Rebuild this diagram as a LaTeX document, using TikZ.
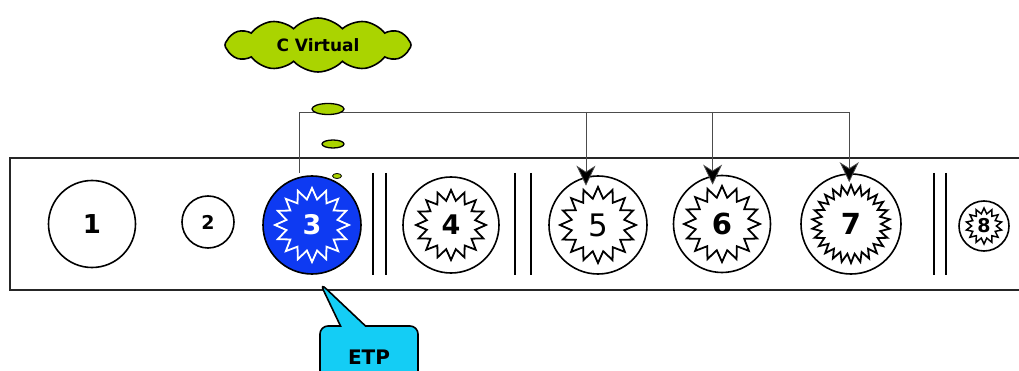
\documentclass[tikz,border=0pt]{standalone}
\usepackage{fontspec}
\setmainfont{DejaVu Sans}
\usetikzlibrary{arrows.meta,shapes.geometric,shapes.symbols,shapes.callouts}
\definecolor{leaf}{RGB}{170,212,0}
\definecolor{deepblue}{RGB}{14,58,242}
\definecolor{sky}{RGB}{20,205,245}

\begin{document}
\begin{tikzpicture}[
      x=1pt, y=-1pt,
      ring/.style={draw, line width=1.6pt, circle, inner sep=0pt},
      burst/.style={draw, line width=1.8pt, star, star points=16, star point ratio=1.42, inner sep=0pt},
      digits/.style={font=\bfseries\fontsize{#1}{#1}\selectfont},
      wall/.style={line width=1.8pt},
      link/.style={line width=0.8pt, draw=black!70},
      drop/.style={line width=0.8pt, draw=black!70, -{Stealth[length=20pt,width=19pt,inset=6pt,fill=black]}, shorten >=-9pt},
      bubble/.style={draw, line width=1.3pt, ellipse, fill=leaf, inner sep=0pt}
    ]
    \useasboundingbox (0,0) rectangle (1019,371);
    % Draw the frame and the walls.
    \draw[line width=2pt, draw=black!85] (10,158) rectangle (1040,290);
    \draw[wall] (373,173) -- (373,275);
    \draw[wall] (386,173) -- (386,275);
    \draw[wall] (515,173) -- (515,275);
    \draw[wall] (531,173) -- (531,275);
    \draw[wall] (934,173) -- (934,275);
    \draw[wall] (946,173) -- (946,275);
    % Draw the slots.
    \node[ring, minimum size=87pt, digits=26] (c1) at (92,224) {1};
    \node[ring, minimum size=52pt, digits=19] (c2) at (208,222) {2};
    \node[ring, fill=deepblue, minimum size=98pt] (c3) at (312,225) {};
    \node[ring, minimum size=96pt] (c4) at (451,225) {};
    \node[ring, minimum size=98pt] (c5) at (598,225) {};
    \node[ring, minimum size=97pt] (c6) at (722,224) {};
    \node[ring, minimum size=100pt] (c7) at (851,224) {};
    \node[ring, minimum size=50pt] (c8) at (984,226) {};
    % Draw the bursts.
    \node[burst, draw=white, text=white, minimum size=74pt, digits=27] (s3) at (c3) {3};
    \node[burst, minimum size=70pt, digits=27] (s4) at (c4) {4};
    \node[burst, minimum size=76pt, font=\fontsize{31}{31}\selectfont] (s5) at (c5) {5};
    \node[burst, minimum size=76pt, digits=29] (s6) at (c6) {6};
    \node[burst, star points=26, star point ratio=1.3, minimum size=78pt, digits=29] (s7) at (c7) {7};
    \node[burst, line width=1.5pt, star points=14, star point ratio=1.45, minimum size=36pt, digits=19] (s8) at (c8) {8};
    % Draw the links.
    \coordinate (bar) at (0,112);
    \draw[link, shorten <=4pt] (c3.105) -- (c3.105 |- bar) -- (c7.92 |- bar);
    \draw[drop] (c5.104 |- bar) -- (c5.104);
    \draw[drop] (c6.101 |- bar) -- (c6.101);
    \draw[drop] (c7.92 |- bar) -- (c7.92);
    % Draw the thought cloud.
    \node[bubble, minimum width=32pt, minimum height=11pt] (b1) at (328,109) {};
    \node[bubble, minimum width=22pt, minimum height=8pt] (b2) at (333,144) {};
    \node[bubble, line width=0.8pt, minimum width=9pt, minimum height=5pt] (b3) at (337,176) {};
    \node[cloud, cloud puffs=12, cloud puff arc=95, aspect=3.5, draw, line width=1.6pt, fill=leaf,
          minimum width=186pt, minimum height=54pt, digits=17] (virt) at (318,45) {C Virtual};
    % Draw the callout.
    \coordinate (tip) at (320,283);
    \node[rectangle callout, callout absolute pointer={(tip)}, callout pointer width=25pt,
          rounded corners=8pt, draw, line width=1.6pt, fill=sky,
          minimum width=98pt, minimum height=62pt, digits=20] (etp) at (369,357) {ETP};
\end{tikzpicture}
\end{document}
